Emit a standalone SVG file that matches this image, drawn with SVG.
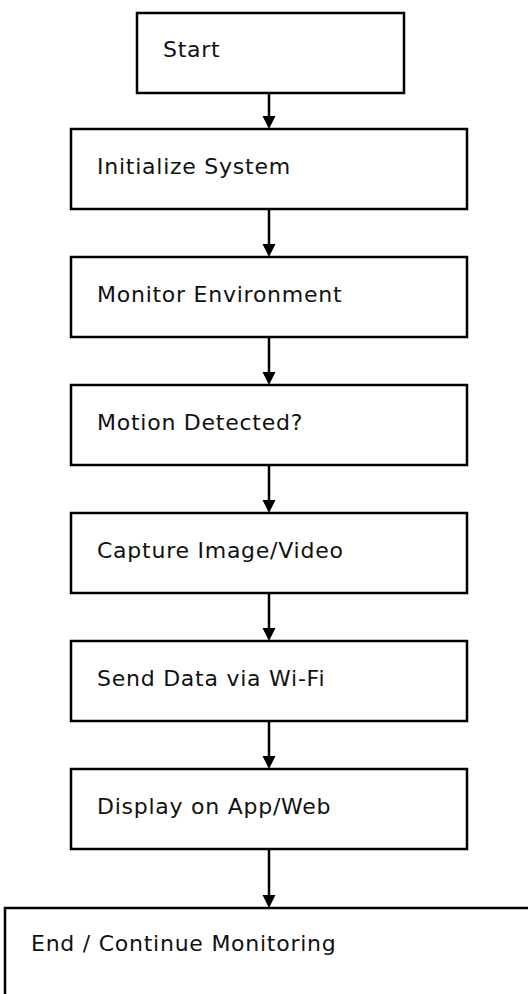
<svg xmlns="http://www.w3.org/2000/svg" width="528" height="994" viewBox="0 0 528 994">
<style>
.box{fill:#fff;stroke:#000;stroke-width:2.5}
.lbl{font-family:"DejaVu Sans",sans-serif;font-size:22px;letter-spacing:0.75px;fill:#111}
.conn{stroke:#000;stroke-width:2.5;fill:none}
.head{fill:#000}
</style>
<rect width="528" height="994" fill="#fff"/>
<g id="n1"><rect class="box" x="137" y="13" width="267" height="80"/><text class="lbl" x="163" y="56.5">Start</text></g>
<g id="n2"><rect class="box" x="71" y="129" width="396" height="80"/><text class="lbl" x="97" y="173.5">Initialize System</text></g>
<g id="n3"><rect class="box" x="71" y="257" width="396" height="80"/><text class="lbl" x="97" y="301.5">Monitor Environment</text></g>
<g id="n4"><rect class="box" x="71" y="385" width="396" height="80"/><text class="lbl" x="97" y="429.5">Motion Detected?</text></g>
<g id="n5"><rect class="box" x="71" y="513" width="396" height="80"/><text class="lbl" x="97" y="557.5">Capture Image/Video</text></g>
<g id="n6"><rect class="box" x="71" y="641" width="396" height="80"/><text class="lbl" x="97" y="685.5">Send Data via Wi-Fi</text></g>
<g id="n7"><rect class="box" x="71" y="769" width="396" height="80"/><text class="lbl" x="97" y="813.5">Display on App/Web</text></g>
<g id="n8"><rect class="box" x="5" y="908" width="540" height="100"/><text class="lbl" x="31" y="950.5">End / Continue Monitoring</text></g>
<g id="connectors">
<line class="conn" x1="269" y1="93" x2="269" y2="118"/><path class="head" d="M262.5,116 L275.5,116 L269,129 Z"/>
<line class="conn" x1="269" y1="209" x2="269" y2="246"/><path class="head" d="M262.5,244 L275.5,244 L269,257 Z"/>
<line class="conn" x1="269" y1="337" x2="269" y2="374"/><path class="head" d="M262.5,372 L275.5,372 L269,385 Z"/>
<line class="conn" x1="269" y1="465" x2="269" y2="502"/><path class="head" d="M262.5,500 L275.5,500 L269,513 Z"/>
<line class="conn" x1="269" y1="593" x2="269" y2="630"/><path class="head" d="M262.5,628 L275.5,628 L269,641 Z"/>
<line class="conn" x1="269" y1="721" x2="269" y2="758"/><path class="head" d="M262.5,756 L275.5,756 L269,769 Z"/>
<line class="conn" x1="269" y1="849" x2="269" y2="897"/><path class="head" d="M262.5,895 L275.5,895 L269,908 Z"/>
</g>
</svg>
